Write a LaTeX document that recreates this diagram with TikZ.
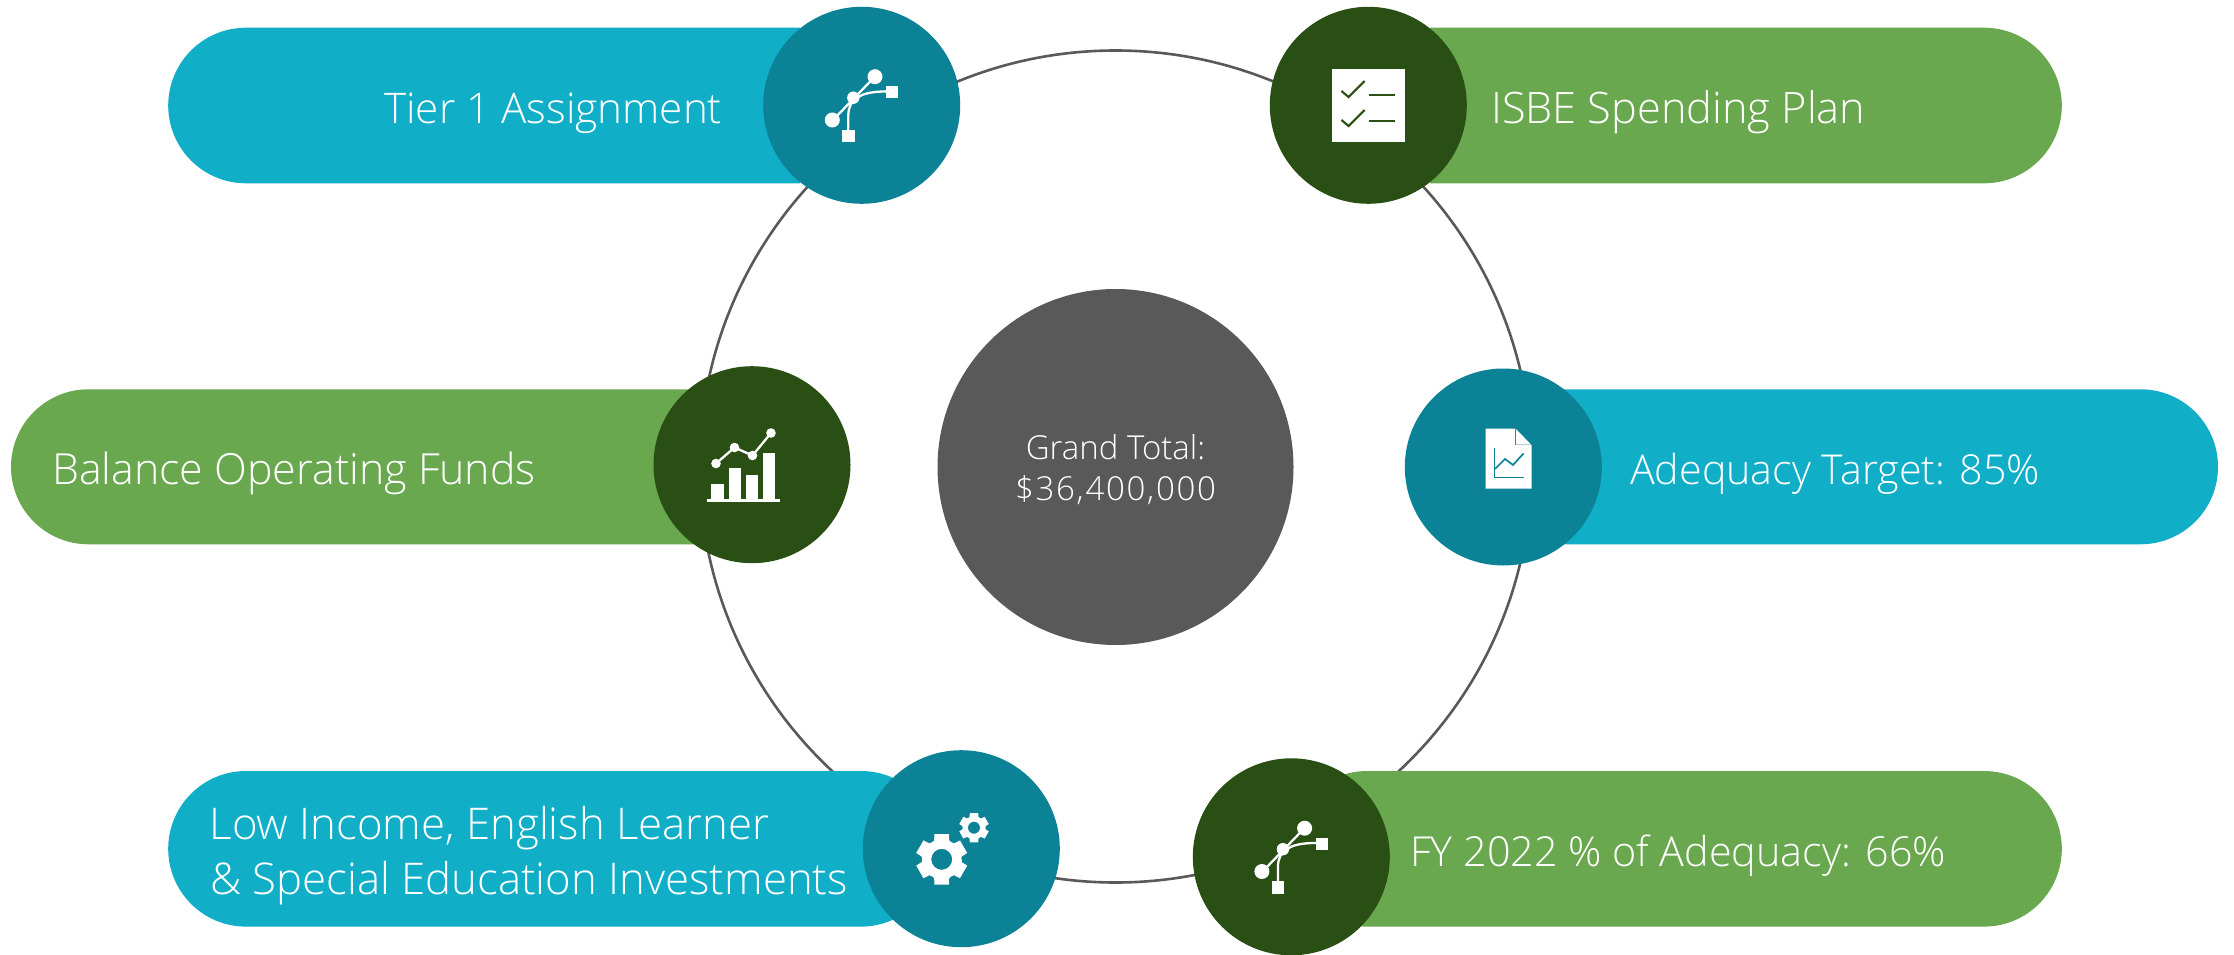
\documentclass[tikz,border=0pt]{standalone}
\usepackage{fontspec}
\setmainfont{Open Sans Light}[]
\definecolor{tealL}{HTML}{11AEC8}
\definecolor{tealD}{HTML}{0C8296}
\definecolor{greenL}{HTML}{6AA84F}
\definecolor{greenD}{HTML}{294F14}
\definecolor{ringC}{HTML}{595959}
\tikzset{x=1pt,y=-1pt,
 ic/.style={circle,minimum size=197pt,inner sep=0pt,draw=none},
 lbl/.style={text=white,font=\fontsize{#1}{55}\selectfont,align=left,inner sep=0pt},
 wl/.style={draw=white,line width=2.3pt}}
\newcommand{\bez}[2]{\begin{scope}[shift={(#1,#2)}]
 \draw[wl] (-29,15)--(13,-28.5);
 \draw[wl] (-5,-7) .. controls (1,-12) and (10,-14) .. (31,-14);
 \draw[wl] (-13.4,32) -- (-13.4,10) .. controls (-13.4,2) and (-10,-3) .. (-7,-7);
 \fill[white] (-29.4,14.7) circle (7.5pt);
 \fill[white] (13.3,-28.6) circle (7.5pt);
 \fill[white] (-8.4,-7.6) circle (6.2pt);
 \fill[white] (24.2,-19.2) rectangle ++(12.4,12.4);
 \fill[white] (-19.6,24.5) rectangle ++(12.4,12.4);
\end{scope}}
\newcommand{\gear}[3]{\begin{scope}[shift={(#1,#2)},scale=#3]
 \fill[white,even odd rule] (0:1) \foreach \a in {0,60,...,300}{
  -- (\a+30-22:1) -- (\a+30-16:1.3) -- (\a+30+16:1.3) -- (\a+30+22:1) -- (\a+60:0.97)}
  -- cycle (0,0) circle (0.52);
\end{scope}}
\begin{document}
\begin{tikzpicture}
\useasboundingbox (0,0) rectangle (2234,955);
% ring
\node[circle,draw=ringC,line width=2.6pt,minimum size=832pt,inner sep=0pt] (ring) at (1115.5,466.5) {};
% pills
\fill[tealL] (800,27.7) -- (246,27.7) arc[start angle=-90,end angle=-270,radius=77.8] -- (800,183.3) -- cycle;
\fill[greenL] (1430,27.7) -- (1984,27.7) arc[start angle=-90,end angle=90,radius=77.8] -- (1430,183.3) -- cycle;
\fill[greenL] (700,389.3) -- (88.5,389.3) arc[start angle=-90,end angle=-270,radius=77.5] -- (700,544.3) -- cycle;
\fill[tealL] (1560,389.3) -- (2140.5,389.3) arc[start angle=-90,end angle=90,radius=77.5] -- (1560,544.3) -- cycle;
\fill[tealL] (861,771) -- (246,771) arc[start angle=-90,end angle=-270,radius=77.8] -- (861,926.6) arc[start angle=90,end angle=-90,radius=77.8] -- cycle;
\fill[greenL] (1367,771) -- (1984,771) arc[start angle=-90,end angle=90,radius=77.8] -- (1367,926.6) arc[start angle=90,end angle=270,radius=77.8] -- cycle;
% centre
\node[circle,fill=ringC,minimum size=356pt,inner sep=0pt] (centre) at (1115.5,467) {};
\node[text=white,inner sep=0pt,font=\fontsize{33}{44}\selectfont,anchor=base] (g1) at (1115.5,459) {Grand Total:};
\node[text=white,inner sep=0pt,font=\fontsize{33}{44}\addfontfeature{LetterSpace=5.2}\selectfont,anchor=base] (g2) at (1115.5,500) {\$36,400,000};
% circles
\node[ic,fill=tealD] (c1) at (861.7,105.3) {};
\node[ic,fill=greenD] (c2) at (1368.3,105.3) {};
\node[ic,fill=greenD] (c3) at (752,464.7) {};
\node[ic,fill=tealD] (c4) at (1503.3,467) {};
\node[ic,fill=tealD] (c5) at (961.3,848.7) {};
\node[ic,fill=greenD] (c6) at (1291.3,856.8) {};
% labels
\node[lbl=42.2,anchor=base west] (t1) at (384,123.5) {Tier 1 Assignment};
\node[lbl=43.3,anchor=base west] (t2) at (1491,123.5) {ISBE Spending Plan};
\node[lbl=42.9,anchor=base west] (t3) at (52,484) {Balance Operating Funds};
\node[lbl=41.2,anchor=base west] (t4) at (1630,484) {Adequacy Target: 85\%};
\node[lbl=43.7,anchor=base west] (t5a) at (209.5,839) {Low Income, English Learner};
\node[lbl=43.7,anchor=base west] (t5b) at (210,894) {\& Special Education Investments};
\node[lbl=41.3,anchor=base west] (t6) at (1410,866) {FY 2022 \% of Adequacy: 66\%};
% icons
\bez{861.7}{105.3}
\bez{1291.3}{856.8}
% checklist
\fill[white] (1332,69) rectangle (1405,142);
\begin{scope}[draw=greenD,line width=2.1pt]
\draw (1341.5,91) -- (1348.5,97) -- (1364.5,81);
\draw (1341.5,120) -- (1348.5,126) -- (1364.5,110);
\draw (1369,95) -- (1395,95);
\draw (1369,121) -- (1395,121);
\end{scope}
% bar chart
\fill[white] (711,484) rectangle (723.5,499);
\fill[white] (728.5,467.5) rectangle (741,499);
\fill[white] (745.5,474.5) rectangle (758,499);
\fill[white] (762.5,452.5) rectangle (775,499);
\fill[white] (707,499) rectangle (779.5,502);
\draw[wl] (716,463.5) -- (734.5,447.5) -- (752.5,455.5) -- (771,433);
\fill[white] (716,463.5) circle (4.8pt) (734.5,447.5) circle (4.8pt) (752.5,455.5) circle (4.8pt) (771,433) circle (4.8pt);
% doc
\fill[white] (1485.5,428.5) -- (1515,428.5) -- (1515,445) -- (1531.5,445) -- (1531.5,488.5) -- (1485.5,488.5) -- cycle;
\fill[white] (1516,429) -- (1531,444.5) -- (1516,444.5) -- cycle;
\draw[tealD,line width=1.7pt] (1494.5,447.5) -- (1494.5,477.5) -- (1524,477.5);
\draw[tealD,line width=1.7pt] (1495,469) -- (1505,459) -- (1513,465) -- (1523.5,453.5);
% gears
\gear{941.7}{859.3}{20.2}
\gear{974}{827.7}{11.7}
\end{tikzpicture}
\end{document}
